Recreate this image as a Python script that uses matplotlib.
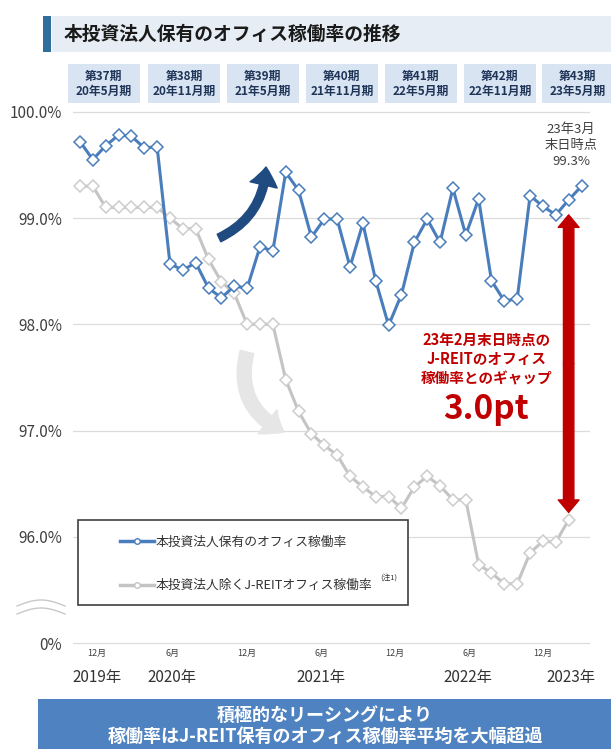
import numpy as np
import matplotlib.pyplot as plt
from matplotlib.patches import Rectangle, FancyArrowPatch
from matplotlib.lines import Line2D

plt.rcParams['font.family'] = ['Noto Sans CJK JP', 'DejaVu Sans']

W, H = 611, 749

# monthly office occupancy, Dec 2019 - Mar 2023 (%)
own_rate = [99.72, 99.55, 99.68, 99.78, 99.77, 99.66, 99.67, 98.57, 98.51, 98.58,
            98.34, 98.25, 98.36, 98.34, 98.73, 98.69, 99.43, 99.26, 98.82, 98.99,
            98.99, 98.54, 98.95, 98.41, 97.99, 98.28, 98.77, 98.99, 98.77, 99.28,
            98.84, 99.18, 98.41, 98.22, 98.24, 99.21, 99.11, 99.03, 99.17, 99.30]
# J-REIT offices excluding ours, Dec 2019 - Feb 2023 (%)
jreit_rate = [99.30, 99.30, 99.10, 99.10, 99.10, 99.10, 99.10, 99.00, 98.90, 98.90,
              98.61, 98.40, 98.29, 98.00, 98.00, 98.00, 97.48, 97.18, 96.97, 96.86,
              96.77, 96.57, 96.47, 96.38, 96.38, 96.27, 96.47, 96.57, 96.48, 96.35,
              96.35, 95.74, 95.66, 95.56, 95.56, 95.85, 95.96, 95.95, 96.16]

periods = ["第37期\n20年5月期", "第38期\n20年11月期", "第39期\n21年5月期", "第40期\n21年11月期",
           "第41期\n22年5月期", "第42期\n22年11月期", "第43期\n23年5月期"]
ytick_vals = [95, 96, 97, 98, 99, 100]
ytick_labels = ["0%", "96.0%", "97.0%", "98.0%", "99.0%", "100.0%"]
month_labels = ["12月", "6月", "12月", "6月", "12月", "6月", "12月"]
year_labels = ["2019年", "2020年", "2021年", "2022年", "2023年"]

BLUE = '#4a7dbb'
GRAY_LINE = '#c4c4c4'
RED = '#c00000'


def px(x, y):
    return x / W, 1 - y / H


def rect(x0, y0, x1, y1, **kw):
    fig.add_artist(Rectangle((x0 / W, 1 - y1 / H), (x1 - x0) / W, (y1 - y0) / H,
                             transform=fig.transFigure, **kw))


fig = plt.figure(figsize=(W / 100, H / 100), dpi=100)
ax = fig.add_axes([73 / W, 1 - 648.5 / H, 517 / W, (648.5 - 95.8) / H])

x_own = np.arange(len(own_rate))
x_jreit = np.arange(len(jreit_rate))

ax.plot(x_jreit, jreit_rate, color=GRAY_LINE, lw=2.2, marker='D', ms=6.2,
        mfc='white', mec='#cdcdcd', mew=1.1, zorder=3)
ax.plot(x_own, own_rate, color=BLUE, lw=2.2, marker='D', ms=6.2,
        mfc='white', mec=BLUE, mew=1.1, zorder=4)

ax.set_xlim(-0.54, 39.66)
ax.set_ylim(94.95, 100.15)
ax.set_yticks(ytick_vals, ytick_labels, fontsize=11, color='#404040')
ax.grid(axis='y', color='#dcdcdc', lw=0.9)
ax.set_axisbelow(True)
for s in ax.spines.values():
    s.set_visible(False)
ax.tick_params(axis='y', length=0, pad=8)

# month / year labels under the axis
ax.xaxis.remove_overlapping_locs = False
ax.set_xticks([1.3, 7.2, 13.0, 18.8, 24.5, 30.3, 36.0], month_labels,
              fontsize=6.5, color='#404040')
ax.set_xticks([1.3, 7.15, 18.7, 30.2, 38.2], year_labels, minor=True,
              fontsize=11, color='#333333')
ax.tick_params(axis='x', which='major', length=0, pad=0)
ax.tick_params(axis='x', which='minor', length=0, pad=15)

# gap arrow between the two series at Feb 2023
top = own_rate[38] - 0.14
bot = jreit_rate[38] + 0.07
mid = (top + bot) / 2
for end in (top, bot):
    ax.add_patch(FancyArrowPatch((38, mid), (38, end), mutation_scale=1,
                                 arrowstyle="simple,head_length=9,head_width=15,tail_width=7.5",
                                 color=RED, shrinkA=0, shrinkB=0, zorder=5))

ax.text(38.2, 99.68, "23年3月\n末日時点\n99.3%", ha='center', va='center',
        fontsize=9.5, color='#404040', linespacing=1.3)
ax.text(31.6, 97.67, "23年2月末日時点の\nJ-REITのオフィス\n稼働率とのギャップ", ha='center',
        va='center', fontsize=10.5, color=RED, fontweight='bold', linespacing=1.25)
ax.text(31.6, 97.2, "3.0pt", ha='center', va='center', fontsize=24,
        color=RED, fontweight='bold')

# trend arrows
fig.add_artist(FancyArrowPatch(px(219, 238), px(266, 167), transform=fig.transFigure,
                               connectionstyle="arc3,rad=0.3", mutation_scale=1,
                               arrowstyle="simple,head_length=13,head_width=20,tail_width=6",
                               color='#1f4b80', shrinkA=0, shrinkB=0))
fig.add_artist(FancyArrowPatch(px(247, 352), px(284, 432), transform=fig.transFigure,
                               connectionstyle="arc3,rad=0.4", mutation_scale=1,
                               arrowstyle="simple,head_length=14,head_width=22,tail_width=10",
                               color='#e6e6e6', shrinkA=0, shrinkB=0, zorder=0.5))

# axis break mark
t = np.linspace(0, 1, 40)
for base in (606, 614):
    xs, ys = px(17 + 48 * t, base - 6 * np.sin(np.pi * t))
    fig.add_artist(Line2D(xs, ys, transform=fig.transFigure, color='#c8c8c8', lw=1))

# legend box
rect(78, 520, 408, 605, facecolor='white', edgecolor='#404040', lw=1.2)
handles = [Line2D([], [], color=BLUE, lw=2.5, marker='o', ms=4, mfc='white', mec=BLUE),
           Line2D([], [], color=GRAY_LINE, lw=2.5, marker='o', ms=4, mfc='white', mec=GRAY_LINE)]
fig.legend(handles, ["本投資法人保有のオフィス稼働率", "本投資法人除くJ-REITオフィス稼働率"],
           loc='upper left', bbox_to_anchor=px(108, 524), frameon=False, fontsize=9.2,
           handlelength=2.7, handletextpad=0.15, labelspacing=2.4,
           labelcolor='#333333')
fig.text(*px(380, 578), "(注1)", fontsize=5.5, color='#333333', va='center')

# header
rect(52, 16, W, 52, facecolor='#e7edf4', edgecolor='none')
rect(43, 16, 51, 52, facecolor='#2f6e9a', edgecolor='none')
fig.text(*px(64, 34), "本投資法人保有のオフィス稼働率の推移", fontsize=13.5, fontweight='bold',
         color='#1a1a1a', va='center')

box_centers = [104, 184, 263, 342, 421, 500, 578]
for cx, label in zip(box_centers, periods):
    rect(cx - 36, 64, cx + 36, 103, facecolor='#d9e4f2', edgecolor='none')
    fig.text(*px(cx, 84), label, ha='center', va='center', fontsize=8.5,
             fontweight='bold', color='#1f3558', linespacing=1.2)

# bottom banner
rect(38, 699, W, H, facecolor='#4f82c0', edgecolor='none')
fig.text(*px(325, 726), "積極的なリーシングにより\n稼働率はJ-REIT保有のオフィス稼働率平均を大幅超過",
         ha='center', va='center', fontsize=13, fontweight='bold', color='white',
         linespacing=1.15)

fig.savefig('out.png', dpi=100)
